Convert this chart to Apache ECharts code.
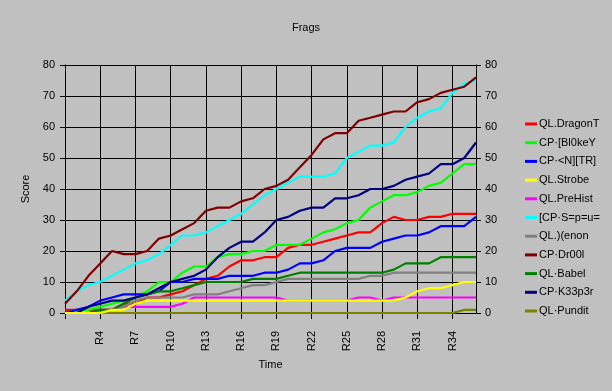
<!DOCTYPE html>
<html>
<head>
<meta charset="utf-8">
<script src="https://cdn.jsdelivr.net/npm/echarts@6/dist/echarts.min.js"></script>
<style>
html,body{margin:0;padding:0;background:#c0c0c0;}
#c{width:612px;height:391px;}
</style>
</head>
<body>
<div id="c"></div>
<script>
const rounds = Array.from({length:36}, (_, i) => 'R' + (i + 1));
const names = ['QL.DragonT','CP·[Bl0keY','CP·<N][TR]','QL.Strobe','QL.PreHist','[CP·S=p=u=','QL.)(enon','CP·Dr00l','QL·Babel','CP·K33p3r','QL·Pundit'];
const colors = ['#ff0000','#00ff00','#0000ff','#ffff00','#ff00ff','#00ffff','#808080','#800000','#008000','#000080','#808000'];

const dragonT = [1,1,1,1,1,3,3,5,5,6,7,9,11,12,15,17,17,18,18,21,22,22,23,24,25,26,26,29,31,30,30,31,31,32,32,32];
const bl0keY  = [0,1,1,2,3,4,5,7,10,10,13,15,15,18,19,19,20,20,22,22,22,24,26,27,29,30,34,36,38,38,39,41,42,45,48,48];
const ntr     = [0,1,2,4,5,6,6,6,7,10,10,11,11,11,12,12,12,13,13,14,16,16,17,20,21,21,21,23,24,25,25,26,28,28,28,31];
const strobe  = [0,0,0,0,1,1,3,4,4,4,4,4,4,4,4,4,4,4,4,4,4,4,4,4,4,4,4,4,4,5,7,8,8,9,10,10];
const preHist = [0,0,0,0,1,2,2,2,2,2,3,5,5,5,5,5,5,5,5,4,4,4,4,4,4,5,5,4,5,5,5,5,5,5,5,5];
const spu     = [4,7,9,10,12,14,16,17,19,22,25,25,26,28,30,32,35,38,40,42,44,44,44,45,50,52,54,54,55,60,63,65,66,71,74,75];
const xenon   = [0,0,0,1,1,2,4,5,5,5,5,6,6,6,7,8,9,9,10,11,11,11,11,11,11,11,12,12,13,13,13,13,13,13,13,13];
const dr00l   = [3,7,12,16,20,19,19,20,24,25,27,29,33,34,34,36,37,40,41,43,47,51,56,58,58,62,63,64,65,65,68,69,71,72,73,76];
const babel   = [0,0,0,1,1,3,5,6,7,7,8,9,10,10,10,10,11,11,11,12,13,13,13,13,13,13,13,13,14,16,16,16,18,18,18,18];
const k33p3r  = [0,0,2,3,4,4,5,6,8,10,11,12,14,18,21,23,23,26,30,31,33,34,34,37,37,38,40,40,41,43,44,45,48,48,50,55];
const pundit  = [0,0,0,0,0,0,0,0,0,0,0,0,0,0,0,0,0,0,0,0,0,0,0,0,0,0,0,0,0,0,0,0,0,0,1,1];
const values = [dragonT,bl0keY,ntr,strobe,preHist,spu,xenon,dr00l,babel,k33p3r,pundit];
const yTicks = {min:0, max:80, interval:10};

const font = 'Liberation Sans, Arial, sans-serif';
const series = names.map((n, i) => ({
  name: n,
  type: 'line',
  data: values[i],
  symbol: 'none',
  lineStyle: {color: colors[i], width: 2.2},
  itemStyle: {color: colors[i]},
  z: n === 'QL.Strobe' ? 3 : 2,
  animation: false
}));

const chart = echarts.init(document.getElementById('c'));
const yCommon = {
  type: 'value', min: yTicks.min, max: yTicks.max, interval: yTicks.interval,
  axisLine: {show: true, lineStyle: {color: '#000', width: 1}},
  axisTick: {show: true, length: 5, lineStyle: {color: '#000'}},
  axisLabel: {color: '#000', fontSize: 11, fontFamily: font, margin: 10}
};
chart.setOption({
  backgroundColor: '#c0c0c0',
  animation: false,
  title: {text: 'Frags', left: 'center', top: 17,
    textStyle: {color: '#000', fontSize: 11, fontWeight: 'normal', fontFamily: font}},
  grid: {left: 65, right: 136, top: 65, bottom: 78, containLabel: false},
  legend: {
    orient: 'vertical', left: 520, top: 112,
    data: names, icon: 'rect', itemWidth: 12, itemHeight: 3, itemGap: 4.7,
    textStyle: {color: '#000', fontSize: 11, fontFamily: font, lineHeight: 14, padding: [0,0,0,-3]},
    selectedMode: false
  },
  xAxis: {
    type: 'category', data: rounds, boundaryGap: false,
    name: 'Time', nameLocation: 'middle', nameGap: 43,
    nameTextStyle: {color: '#000', fontSize: 11, fontFamily: font},
    axisLine: {show: true, lineStyle: {color: '#000', width: 1}},
    axisTick: {show: true, length: 6, interval: (i) => i % 3 === 0, lineStyle: {color: '#000'}},
    axisLabel: {rotate: 90, margin: 18, color: '#000', fontSize: 11, fontFamily: font,
      interval: (i) => i % 3 === 0 && i > 0},
    splitLine: {show: true, interval: (i) => i % 3 === 0, lineStyle: {color: '#000', width: 1}}
  },
  yAxis: [
    Object.assign({}, yCommon, {
      position: 'left', name: 'Score', nameLocation: 'middle', nameGap: 30,
      nameTextStyle: {color: '#000', fontSize: 11, fontFamily: font},
      splitLine: {show: true, lineStyle: {color: '#000', width: 1}}
    }),
    Object.assign({}, yCommon, {
      position: 'right', splitLine: {show: false},
      axisLabel: {color: '#000', fontSize: 11, fontFamily: font, margin: 9}
    })
  ],
  series: series
});
</script>
</body>
</html>
